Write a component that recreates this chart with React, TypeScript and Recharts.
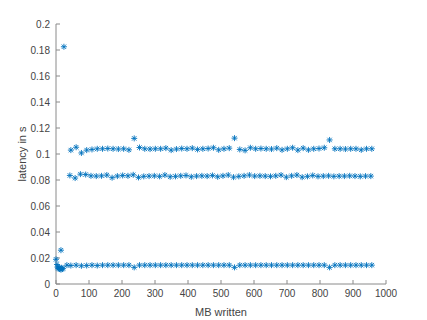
import React from 'react';
import { ScatterChart, Scatter, XAxis, YAxis, Label } from 'recharts';

const xTicks = [0, 100, 200, 300, 400, 500, 600, 700, 800, 900, 1000];
const yTicks = [0, 0.02, 0.04, 0.06, 0.08, 0.1, 0.12, 0.14, 0.16, 0.18, 0.2];

const earlyMB = [0, 3, 5, 7, 9, 11, 13, 15, 17, 19, 21, 15, 24, 33];
const earlyLatency = [0.019, 0.015, 0.013, 0.012, 0.0125, 0.0115, 0.012, 0.011, 0.0125, 0.0115, 0.012, 0.026, 0.1825, 0.0145];

const bandMB = [45, 61, 77, 93, 109, 125, 141, 157, 173, 189, 205, 221, 237, 253, 269, 285, 301, 317, 333, 349, 365, 381, 397, 413, 429, 445, 461, 477, 493, 509, 525, 541, 557, 573, 589, 605, 621, 637, 653, 669, 685, 701, 717, 733, 749, 765, 781, 797, 813, 829, 845, 861, 877, 893, 909, 925, 941, 957];

const upperLatency = [0.103, 0.1052, 0.1008, 0.103, 0.1035, 0.104, 0.104, 0.1042, 0.104, 0.1038, 0.104, 0.1032, 0.112, 0.105, 0.104, 0.1038, 0.104, 0.104, 0.1045, 0.103, 0.1038, 0.1042, 0.104, 0.1045, 0.1035, 0.104, 0.1042, 0.1048, 0.1032, 0.104, 0.1045, 0.1122, 0.1035, 0.1028, 0.1048, 0.104, 0.1042, 0.104, 0.1038, 0.1045, 0.1032, 0.104, 0.1048, 0.103, 0.1045, 0.1032, 0.104, 0.1042, 0.1048, 0.1108, 0.104, 0.104, 0.1038, 0.104, 0.104, 0.1032, 0.104, 0.104];

const middleLatency = [0.0835, 0.0815, 0.0845, 0.0842, 0.0832, 0.083, 0.0832, 0.0838, 0.0818, 0.083, 0.0835, 0.0832, 0.084, 0.082, 0.0828, 0.083, 0.0832, 0.0828, 0.0838, 0.0825, 0.0828, 0.0832, 0.0835, 0.0825, 0.083, 0.0832, 0.083, 0.0835, 0.0825, 0.0832, 0.0838, 0.0822, 0.0828, 0.0832, 0.0838, 0.083, 0.0832, 0.083, 0.0828, 0.0832, 0.0838, 0.0822, 0.0832, 0.0838, 0.0822, 0.0828, 0.0835, 0.0828, 0.083, 0.0832, 0.0828, 0.083, 0.083, 0.0832, 0.083, 0.0828, 0.083, 0.083];

const lowerLatency = [0.0142, 0.0145, 0.014, 0.0142, 0.0145, 0.0142, 0.0145, 0.0145, 0.0145, 0.0145, 0.0145, 0.0145, 0.0128, 0.0145, 0.0145, 0.0145, 0.0145, 0.0145, 0.0145, 0.0145, 0.0145, 0.0145, 0.0145, 0.0145, 0.0145, 0.0145, 0.0145, 0.0145, 0.0145, 0.0145, 0.0145, 0.0128, 0.0145, 0.0145, 0.0145, 0.0145, 0.0145, 0.0145, 0.0145, 0.0145, 0.0145, 0.0145, 0.0145, 0.0145, 0.0145, 0.0145, 0.0145, 0.0145, 0.0145, 0.0128, 0.0145, 0.0145, 0.0145, 0.0145, 0.0145, 0.0145, 0.0145, 0.0145];

const points: { mb: number; lat: number }[] = [];
earlyMB.forEach((m, i) => points.push({ mb: m, lat: earlyLatency[i] }));
bandMB.forEach((m, i) => {
  points.push({ mb: m, lat: lowerLatency[i] });
  points.push({ mb: m - 3, lat: middleLatency[i] });
  points.push({ mb: m, lat: upperLatency[i] });
});

const BLUE = '#0072BD';
const AXIS = '#8a8a8a';
const TEXT = '#444444';

const Asterisk = (props: any) => {
  const { cx, cy } = props;
  if (cx == null || cy == null) return null;
  const r = 3;
  const d = 2.2;
  return (
    <g stroke={BLUE} strokeWidth={0.9} fill="none">
      <line x1={cx - r} y1={cy} x2={cx + r} y2={cy} />
      <line x1={cx} y1={cy - r} x2={cx} y2={cy + r} />
      <line x1={cx - d} y1={cy - d} x2={cx + d} y2={cy + d} />
      <line x1={cx - d} y1={cy + d} x2={cx + d} y2={cy - d} />
    </g>
  );
};

const fmtY = (v: number) => (v === 0 ? '0' : String(Number(v.toFixed(2))));

export default function App() {
  return (
    <div style={{ position: 'absolute', left: 0, top: 0, width: 427, height: 320, background: '#fff' }}>
      <ScatterChart width={427} height={320} margin={{ top: 24, right: 41, bottom: 0, left: 0 }}>
        <XAxis
          xAxisId={0}
          type="number"
          dataKey="mb"
          domain={[0, 1000]}
          ticks={xTicks}
          interval={0}
          height={36}
          stroke={AXIS}
          tickSize={-4}
          tickMargin={10}
          tick={{ fill: TEXT, fontSize: 10, fontFamily: 'Liberation Sans, Arial, sans-serif' }}
        >
          <Label
            content={() => (
              <text x={221} y={316} textAnchor="middle" fill={TEXT} fontSize={11} fontFamily="Liberation Sans, Arial, sans-serif">
                MB written
              </text>
            )}
          />
        </XAxis>
        <XAxis
          xAxisId="top"
          orientation="top"
          type="number"
          domain={[0, 1000]}
          ticks={xTicks}
          interval={0}
          height={0}
          stroke={AXIS}
          tickSize={-4}
          tick={false}
        />
        <YAxis
          yAxisId={0}
          type="number"
          dataKey="lat"
          domain={[0, 0.2]}
          ticks={yTicks}
          interval={0}
          width={56}
          stroke={AXIS}
          tickSize={-4}
          tickMargin={10}
          tickFormatter={fmtY}
          tick={{ fill: TEXT, fontSize: 10, fontFamily: 'Liberation Sans, Arial, sans-serif' }}
        >
          <Label
            content={() => (
              <text
                x={22}
                y={154}
                transform="rotate(-90 22 154)"
                textAnchor="middle"
                dominantBaseline="central"
                fill={TEXT}
                fontSize={11}
                fontFamily="Liberation Sans, Arial, sans-serif"
              >
                latency in s
              </text>
            )}
          />
        </YAxis>
        <YAxis
          yAxisId="right"
          orientation="right"
          type="number"
          domain={[0, 0.2]}
          ticks={yTicks}
          interval={0}
          width={0}
          stroke={AXIS}
          tickSize={-4}
          tick={false}
        />
        <Scatter xAxisId={0} yAxisId={0} data={points} shape={<Asterisk />} isAnimationActive={false} />
      </ScatterChart>
    </div>
  );
}
